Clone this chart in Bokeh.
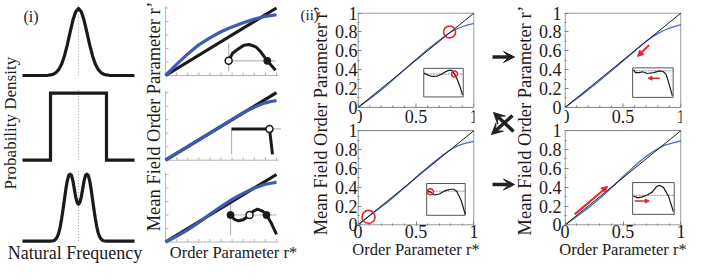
import numpy as np
from bokeh.plotting import figure
from bokeh.layouts import row, column
from bokeh.models import Range1d, FixedTicker, CustomJSTickFormatter, Arrow, VeeHead, NormalHead
from bokeh.core.properties import value
from bokeh.embed import file_html
from bokeh.resources import INLINE

SERIF = "Liberation Serif"
INK = "#1a1a1a"
BLUE = "#3d5caf"
BLUE_THIN = "#4a6bc4"
RED = "#e5262c"
AXGRAY = "#b5b5b5"
FRAME = "#808080"

# ---------------- (i) natural-frequency distributions ----------------
gauss_x = [-1.0, -0.6, -0.55, -0.5, -0.45, -0.4, -0.35, -0.3, -0.25, -0.2, -0.15, -0.1, -0.05, 0.0,
           0.05, 0.1, 0.15, 0.2, 0.25, 0.3, 0.35, 0.4, 0.45, 0.5, 0.55, 0.6, 1.0]
gauss_y = [0, 0, 0.003, 0.008, 0.019, 0.044, 0.091, 0.172, 0.295, 0.458, 0.644, 0.823, 0.952, 1.0,
           0.952, 0.823, 0.644, 0.458, 0.295, 0.172, 0.091, 0.044, 0.019, 0.008, 0.003, 0, 0]
unif_x = [-1.0, -0.5, -0.5, 0.5, 0.5, 1.0]
unif_y = [0, 0, 1, 1, 0, 0]
bimod_x = [-1.0, -0.5, -0.45, -0.425, -0.4, -0.375, -0.35, -0.325, -0.3, -0.275, -0.25, -0.225, -0.2,
           -0.175, -0.15, -0.125, -0.1, -0.075, -0.05, -0.025, 0.0, 0.025, 0.05, 0.075, 0.1, 0.125,
           0.15, 0.175, 0.2, 0.225, 0.25, 0.275, 0.3, 0.325, 0.35, 0.375, 0.4, 0.425, 0.45, 0.5, 1.0]
bimod_y = [0, 0, 0.005, 0.015, 0.035, 0.07, 0.13, 0.22, 0.34, 0.48, 0.63, 0.78, 0.9, 0.98, 1.0, 0.98,
           0.9, 0.78, 0.66, 0.58, 0.55, 0.58, 0.66, 0.78, 0.9, 0.98, 1.0, 0.98, 0.9, 0.78, 0.63, 0.48,
           0.34, 0.22, 0.13, 0.07, 0.035, 0.015, 0.005, 0, 0]

# ---------------- (i) mean-field maps ----------------
diag_x = [0, 1]
diag_y = [0, 1]
x10 = [0, 0.1, 0.2, 0.3, 0.4, 0.5, 0.6, 0.7, 0.8, 0.9, 1.0]
b1_blue = [0, 0.165, 0.32, 0.455, 0.557, 0.648, 0.72, 0.781, 0.835, 0.877, 0.9]
b2_blue_x = [0, 0.2, 0.4, 0.6, 0.7, 0.75, 0.8, 0.85, 0.9, 0.95, 1.0]
b2_blue_y = [0, 0.2, 0.4, 0.6, 0.7, 0.745, 0.785, 0.82, 0.85, 0.87, 0.884]
b3_blue = [0, 0.085, 0.18, 0.29, 0.41, 0.525, 0.63, 0.72, 0.8, 0.855, 0.885]

b1_ins_x = [0.569, 0.604, 0.649, 0.708, 0.753, 0.813, 0.857, 0.917, 0.991]
b1_ins_y = [0.217, 0.329, 0.387, 0.449, 0.459, 0.425, 0.353, 0.217, 0.077]
b1_open = ([0.569], [0.217])
b1_fill = ([0.917], [0.217])
b1_hline = ([0.569, 0.99], [0.217, 0.217])
b1_vline = ([0.569, 0.569], [0.058, 0.478])

b2_ins_x = [0.595, 0.937, 0.964]
b2_ins_y = [0.464, 0.464, 0.087]
b2_open = ([0.937], [0.464])
b2_fill = ([], [])
b2_hline = ([0.595, 1.04], [0.464, 0.464])
b2_vline = ([0.595, 0.595], [0.087, 0.464])

b3_ins_x = [0.586, 0.62, 0.658, 0.70, 0.748, 0.757, 0.79, 0.829, 0.874, 0.91, 0.95, 1.0]
b3_ins_y = [0.4, 0.335, 0.314, 0.33, 0.386, 0.4, 0.455, 0.486, 0.457, 0.4, 0.29, 0.114]
b3_open = ([0.757], [0.4])
b3_fill = ([0.586, 0.91], [0.4, 0.4])
b3_hline = ([0.586, 1.0], [0.4, 0.4])
b3_vline = ([0.586, 0.586], [0.1, 0.6])

b_yticks = [0.2, 0.4, 0.6, 0.8, 1.0]
b_xticks = [0.1, 0.2, 0.3, 0.4, 0.5, 0.6, 0.7, 0.8, 0.9, 1.0]

# ---------------- (ii) panels ----------------
x05 = [0, 0.05, 0.1, 0.15, 0.2, 0.25, 0.3, 0.35, 0.4, 0.45, 0.5, 0.55, 0.6, 0.65, 0.7, 0.75,
       0.8, 0.85, 0.9, 0.95, 1.0]
c1_blue = [0, 0.045, 0.09, 0.137, 0.185, 0.236, 0.29, 0.345, 0.4, 0.454, 0.508, 0.561, 0.613,
           0.662, 0.71, 0.756, 0.8, 0.83, 0.855, 0.875, 0.89]
c2_blue = [0, 0.05, 0.1, 0.146, 0.19, 0.238, 0.288, 0.34, 0.393, 0.448, 0.505, 0.558, 0.61,
           0.661, 0.71, 0.757, 0.8, 0.832, 0.856, 0.873, 0.885]
d1_blue = [0, 0.047, 0.092, 0.138, 0.186, 0.235, 0.285, 0.337, 0.388, 0.439, 0.492, 0.545, 0.598,
           0.65, 0.7, 0.745, 0.782, 0.815, 0.84, 0.86, 0.877]
d2_blue = [0, 0.045, 0.089, 0.134, 0.181, 0.23, 0.282, 0.337, 0.394, 0.452, 0.51, 0.568, 0.625,
           0.678, 0.727, 0.77, 0.808, 0.84, 0.86, 0.875, 0.89]

y_ticks = [0, 0.2, 0.4, 0.6, 0.8, 1.0]
y_minor = [0.1, 0.3, 0.5, 0.7, 0.9]
x_ticks = [0, 0.5, 1.0]
x_tick_labels = ["0", "0.5", "1"]
x_minor = [0.1, 0.2, 0.3, 0.4, 0.6, 0.7, 0.8, 0.9]

# insets (local u in 0..1, v in 0..1)
c1_u = [0.0, 0.02, 0.08, 0.17, 0.25, 0.34, 0.46, 0.55, 0.63, 0.71, 0.78, 0.85, 0.92, 0.98]
c1_v = [0.82, 0.83, 0.78, 0.73, 0.72, 0.73, 0.80, 0.88, 0.93, 0.93, 0.80, 0.60, 0.35, 0.07]
c1_zero = 0.8
c2_u = [0.03, 0.1, 0.2, 0.33, 0.45, 0.55, 0.63, 0.7, 0.78, 0.9, 1.0]
c2_v = [0.76, 0.73, 0.64, 0.67, 0.76, 0.8, 0.82, 0.82, 0.76, 0.45, 0.03]
c2_zero = 0.76
d1_u = [0.02, 0.07, 0.17, 0.24, 0.36, 0.52, 0.67, 0.76, 0.83, 0.9, 0.98]
d1_v = [0.94, 0.84, 0.84, 0.87, 0.81, 0.84, 0.9, 0.87, 0.77, 0.45, 0.06]
d1_zero = 0.9
d2_u = [0.02, 0.12, 0.23, 0.35, 0.47, 0.58, 0.65, 0.74, 0.86, 0.98]
d2_v = [0.58, 0.52, 0.55, 0.61, 0.70, 0.88, 0.91, 0.85, 0.58, 0.09]
d2_zero = 0.6

c1_circle_main = (0.79, 0.8)
c1_circle_ins = (0.78, 0.8)
c2_circle_main = (0.09, 0.085)
c2_circle_ins = (0.1, 0.74)
d1_arrow_main = (0.725, 0.66, 0.625, 0.54)
d1_arrow_ins = (0.67, 0.65, 0.38, 0.65)
d2_arrow_main = (0.083, 0.112, 0.367, 0.408)
d2_arrow_ins = (0.05, 0.42, 0.40, 0.42)

# ---------------- layout constants (positions, not data) ----------------
A_OFF = [2.806, 1.542, 0.334]          # vertical offsets of the stacked (i) density panels
B_OFF = [2.785, 1.530, 0.3185]         # vertical offsets of the stacked (i) map panels
OFF = 1.246                            # offset of the upper (ii) panel
C1_BOX = (0.567, 0.908, 0.111, 0.414)  # inset boxes in host data units
C2_BOX = (0.592, 0.925, 0.102, 0.439)
D1_BOX = (0.583, 0.933, 0.106, 0.419)
D2_BOX = (0.583, 0.942, 0.112, 0.449)

# black transition arrows (pixel data space of the arrow strip, y upward)
arr_x0 = [492, 513, 512, 492]
arr_y0 = [206.5, 132, 148, 79]
arr_x1 = [514, 493, 491, 514]
arr_y1 = [206.5, 151, 129, 79]

YLABEL = "Mean Field Order Parameter r\u2019"
XLABEL = "Order Parameter r*"


def shift(vals, off):
    return [v + off for v in vals]


def bare(width, height, xr, yr):
    p = figure(width=width, height=height, x_range=xr, y_range=yr,
               output_backend="svg", toolbar_location=None,
               x_axis_location=None, y_axis_location=None,
               min_border_left=0, min_border_right=0, min_border_top=0, min_border_bottom=0)
    p.outline_line_color = None
    p.grid.visible = False
    p.background_fill_color = "white"
    p.border_fill_color = "white"
    return p


def txt(p, x, y, s, size, angle=0.0, align="center"):
    p.text(x=[x], y=[y], text=[s], angle=angle, text_align=align, text_baseline="middle",
           text_font=value(SERIF), text_font_size=size, text_color=INK)


# ---------------- (i) densities: one canvas, three stacked panels ----------------
A = bare(143, 263, Range1d(-1.393, 1.161), Range1d(0, 3.925))
for off in A_OFF:
    A.line([0, 0], [off, off + 1.05], line_color="#9a9a9a", line_width=1, line_dash="1 2")
A.line(gauss_x, shift(gauss_y, A_OFF[0]), line_color=INK, line_width=3.2, line_join="round")
A.line(unif_x, shift(unif_y, A_OFF[1]), line_color=INK, line_width=3.2, line_join="miter")
A.line(bimod_x, shift(bimod_y, A_OFF[2]), line_color=INK, line_width=3.2, line_join="round")
txt(A, -0.982, 3.69, "(i)", "16px", align="left")
txt(A, -1.223, 2.094, "Probability Density", "17px", angle=np.pi / 2)
txt(A, -0.0625, 0.157, "Natural Frequency", "18px")

# ---------------- (i) mean-field maps: one canvas, three stacked panels ----------------
B = bare(188, 263, Range1d(-0.1982, 1.4955), Range1d(0, 3.896))
tick_dx = 3 / 111
tick_dy = 3 / 67.5
b_panels = [
    (x10, b1_blue, b1_ins_x, b1_ins_y, b1_hline, b1_vline, b1_open, b1_fill),
    (b2_blue_x, b2_blue_y, b2_ins_x, b2_ins_y, b2_hline, b2_vline, b2_open, b2_fill),
    (x10, b3_blue, b3_ins_x, b3_ins_y, b3_hline, b3_vline, b3_open, b3_fill),
]
for off, (bx, by, ix, iy, hl, vl, op, fp) in zip(B_OFF, b_panels):
    B.segment(x0=[0, 0], y0=[off, off], x1=[0, 1.02], y1=[off + 1.03, off],
              line_color=AXGRAY, line_width=1)
    B.segment(x0=[0] * len(b_yticks), y0=shift(b_yticks, off), x1=[tick_dx] * len(b_yticks),
              y1=shift(b_yticks, off), line_color=AXGRAY, line_width=1)
    B.segment(x0=b_xticks, y0=[off] * len(b_xticks), x1=b_xticks,
              y1=[off + tick_dy] * len(b_xticks), line_color=AXGRAY, line_width=1)
    B.line(hl[0], shift(hl[1], off), line_color=AXGRAY, line_width=1.2)
    B.line(vl[0], shift(vl[1], off), line_color=AXGRAY, line_width=1.2)
    B.line(diag_x, shift(diag_y, off), line_color=INK, line_width=3.2)
    B.line(bx, shift(by, off), line_color=BLUE, line_width=3.2, line_join="round")
    B.line(ix, shift(iy, off), line_color=INK, line_width=3, line_join="round")
    if fp[0]:
        B.scatter(fp[0], shift(fp[1], off), size=7, marker="circle", fill_color=INK,
                  line_color=INK, line_width=1)
    B.scatter(op[0], shift(op[1], off), size=7, marker="circle", fill_color="white",
              line_color=INK, line_width=1.5)
txt(B, -0.1036, 2.178, YLABEL, "18.5px", angle=np.pi / 2)
txt(B, 0.6126, 0.156, XLABEL, "16.5px")
# panel tag and y title of the (ii) column sit in this canvas, left of the (ii) axes
txt(B, 1.216, 3.68, "(ii)", "15px", align="left")
txt(B, 1.401, 2.119, YLABEL, "18.5px", angle=np.pi / 2)


# ---------------- (ii) columns: one canvas each, two stacked panels ----------------
def to_box(box, us, vs, off=0.0):
    return ([box[0] + u * (box[1] - box[0]) for u in us],
            [off + box[2] + v * (box[3] - box[2]) for v in vs])


def red_arrow(p, x0, y0, x1, y1, size=6, width=2.0):
    p.add_layout(Arrow(end=NormalHead(size=size, fill_color=RED, line_color=RED),
                       x_start=x0, y_start=y0, x_end=x1, y_end=y1,
                       line_color=RED, line_width=width))


def order_column(width, left, right, standoff, panels):
    p = figure(width=width, height=263, x_range=Range1d(-0.005, 1.005),
               y_range=Range1d(-0.006, OFF + 1.006), output_backend="svg",
               toolbar_location=None, min_border_left=left, min_border_right=right,
               min_border_top=12, min_border_bottom=38)
    p.outline_line_color = None
    p.grid.visible = False
    xa, ya = p.xaxis[0], p.yaxis[0]
    for a in (xa, ya):
        a.axis_line_color = None
        a.major_tick_in = 4
        a.major_tick_out = 0
        a.minor_tick_in = 2
        a.minor_tick_out = 0
        a.major_tick_line_color = FRAME
        a.minor_tick_line_color = FRAME
        a.major_label_text_font = SERIF
        a.major_label_text_font_size = "18px"
        a.major_label_text_color = INK
    xa.ticker = FixedTicker(ticks=x_ticks, minor_ticks=x_minor)
    xa.formatter = CustomJSTickFormatter(code="return String(Math.round(tick*10)/10);")
    xa.major_label_standoff = -1
    xa.axis_label = XLABEL
    xa.axis_label_text_font = SERIF
    xa.axis_label_text_font_style = "normal"
    xa.axis_label_text_color = INK
    xa.axis_label_text_font_size = "16.5px"
    xa.axis_label_standoff = -1
    ya.ticker = FixedTicker(ticks=y_ticks + shift(y_ticks, OFF),
                            minor_ticks=y_minor + shift(y_minor, OFF))
    ya.formatter = CustomJSTickFormatter(
        code="var v = tick > 1.1 ? tick - %r : tick; return String(Math.round(v*10)/10);" % OFF)
    ya.major_label_standoff = standoff
    # panel frames
    p.quad(left=[0, 0], right=[1, 1], bottom=[0, OFF], top=[1, OFF + 1], fill_color=None,
           line_color=FRAME, line_width=1)
    # ticks and tick labels along the bottom of the upper panel
    p.segment(x0=x_ticks, y0=[OFF] * 3, x1=x_ticks, y1=[OFF + 0.042] * 3, line_color=FRAME)
    p.segment(x0=x_minor, y0=[OFF] * len(x_minor), x1=x_minor, y1=[OFF + 0.021] * len(x_minor),
              line_color=FRAME)
    p.text(x=x_ticks, y=[OFF - 0.094] * 3, text=x_tick_labels, text_align="center",
           text_baseline="middle", text_font=value(SERIF), text_font_size="18px",
           text_color=INK)
    for off, blue, box, u, v, zero in panels:
        p.line(x05, shift(blue, off), line_color=BLUE_THIN, line_width=1.3, line_join="round")
        p.line(diag_x, shift(diag_y, off), line_color=INK, line_width=1)
        p.quad(left=[box[0]], right=[box[1]], bottom=[off + box[2]], top=[off + box[3]],
               fill_color="white", line_color="#555555", line_width=1)
        zx, zy = to_box(box, [0, 1], [zero, zero], off)
        p.line(zx, zy, line_color="#8a8a8a", line_width=1, line_dash="2 1")
        ix, iy = to_box(box, u, v, off)
        p.line(ix, iy, line_color=INK, line_width=1.2, line_join="round")
    return p


C = order_column(150, 23, 7, 0, [(OFF, c1_blue, C1_BOX, c1_u, c1_v, c1_zero),
                                 (0.0, c2_blue, C2_BOX, c2_u, c2_v, c2_zero)])
C.scatter([c1_circle_main[0]], [c1_circle_main[1] + OFF], size=12, marker="circle",
          fill_color=None, line_color=RED, line_width=1.6)
cx, cy = to_box(C1_BOX, [c1_circle_ins[0]], [c1_circle_ins[1]], OFF)
C.scatter(cx, cy, size=6, marker="circle", fill_color=None, line_color=RED, line_width=1.5)
C.scatter([c2_circle_main[0]], [c2_circle_main[1]], size=13, marker="circle", fill_color=None,
          line_color=RED, line_width=1.6)
cx, cy = to_box(C2_BOX, [c2_circle_ins[0]], [c2_circle_ins[1]])
C.scatter(cx, cy, size=6, marker="circle", fill_color=None, line_color=RED, line_width=1.5)

D = order_column(154, 26, 8, 3, [(OFF, d1_blue, D1_BOX, d1_u, d1_v, d1_zero),
                                 (0.0, d2_blue, D2_BOX, d2_u, d2_v, d2_zero)])
red_arrow(D, d1_arrow_main[0], d1_arrow_main[1] + OFF, d1_arrow_main[2], d1_arrow_main[3] + OFF)
ax0, ay0 = to_box(D1_BOX, [d1_arrow_ins[0], d1_arrow_ins[2]], [d1_arrow_ins[1], d1_arrow_ins[3]],
                  OFF)
red_arrow(D, ax0[0], ay0[0], ax0[1], ay0[1], size=4, width=1.6)
red_arrow(D, *d2_arrow_main)
ax0, ay0 = to_box(D2_BOX, [d2_arrow_ins[0], d2_arrow_ins[2]], [d2_arrow_ins[1], d2_arrow_ins[3]])
red_arrow(D, ax0[0], ay0[0], ax0[1], ay0[1], size=4, width=1.6)

# ---------------- transition arrows + y title of the right column ----------------
ARR = bare(54, 263, Range1d(481, 535), Range1d(0, 263))
for i in range(len(arr_x0)):
    ARR.add_layout(Arrow(end=VeeHead(size=11, fill_color="#222222", line_color="#222222",
                                     line_width=1),
                         x_start=arr_x0[i], y_start=arr_y0[i], x_end=arr_x1[i], y_end=arr_y1[i],
                         line_color="#222222", line_width=3.5))
txt(ARR, 524.5, 143, YLABEL, "18.5px", angle=np.pi / 2)

layout = row(column(A), column(B), column(C), column(ARR), column(D))

open("out.html", "w").write(file_html(layout, INLINE))
